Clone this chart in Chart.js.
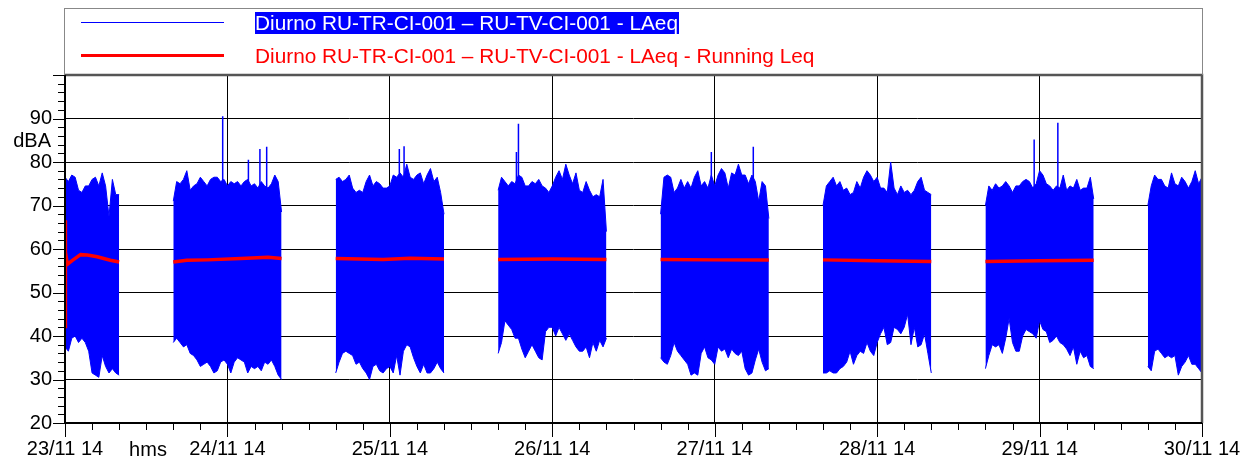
<!DOCTYPE html>
<html lang="pt">
<head>
<meta charset="UTF-8">
<title>Diurno RU-TR-CI-001 – RU-TV-CI-001 - LAeq</title>
<script src="https://cdn.jsdelivr.net/npm/chart.js"></script>
<style>
  body { margin: 0; background: #fff; font-family: "Liberation Sans", Arial, sans-serif; }
  #wrap { position: relative; width: 1257px; height: 466px; }
  #grafico { position: absolute; left: 0; top: 0; }
  #legenda { position: absolute; left: 64px; top: 8px; width: 1139px; height: 67px; border: 1px solid #888; border-bottom: none; box-sizing: border-box; }
  .amostra { position: absolute; left: 16px; width: 143px; }
  .txt { position: absolute; left: 190px; font-size: 20.8px; line-height: 22px; white-space: nowrap; }
</style>
</head>
<body>
<div id="wrap">
  <canvas id="grafico" width="1257" height="466"></canvas>
  <div id="legenda">
    <div class="amostra" style="top:13px; height:1px; background:#0000ff"></div>
    <div class="txt" style="top:3px; background:#0000ff; color:#fff; padding-right:1px">Diurno RU-TR-CI-001 – RU-TV-CI-001 - LAeq</div>
    <div class="amostra" style="top:45px; height:3px; background:#ff0000"></div>
    <div class="txt" style="top:36px; color:#ff0000">Diurno RU-TR-CI-001 – RU-TV-CI-001 - LAeq - Running Leq</div>
  </div>
</div>

<script>
// eixo x em horas desde 23/11 00:00
const dayLabels = ['23/11 14', '24/11 14', '25/11 14', '26/11 14', '27/11 14', '28/11 14', '29/11 14', '30/11 14'];
const blockStart = [0, 16, 40, 64, 88, 112, 136, 160];
const sampleStep = 0.5;

// envelope LAeq (max / min) a cada meia hora
const maxB0 = [76.5,75.5,77,76.5,73.5,73,74.5,74.5,76,76.5,74.5,77.5,74.5,67.5,76,72.5,72.5];
const minB0 = [37.5,36.5,39.5,40,38.5,39.5,38.5,36.5,31.5,31,30.5,35.5,33,31.5,32.5,31.5,31];
const maxB1 = [71,75.5,75,76,78,73.5,74.5,75,76.5,75.5,74.5,76,76.5,76.5,75.5,76,74.5,75.5,75,75.5,74.5,75.5,76,74.5,75,74,75.5,74.5,74,75,77,75.5,68.5];
const minB1 = [38.5,39.5,38.5,37.5,38,36,35.5,34.5,33,33.5,34,33,31.5,32,34,34.5,33.5,31.5,34,35,34.5,34,31.5,33,32.5,33,32,34,33.5,34.5,33,31,30];
const maxB2 = [76,76.5,75.5,76,77,74,73,73.5,73,75.5,77,74.5,75.5,75,74,74,74.5,77,76.5,77.5,76.5,79.5,76.5,76,77,77.5,75,77,78.5,75.5,76.5,73,68];
const minB2 = [31.5,34,36,36.5,36,35.5,33.5,34,32.5,31.5,30,33,33.5,32,31.5,32.5,33,31.5,35.5,31,36.5,38,37.5,35,33,31.5,33.5,31.5,31.5,32.5,34,32.5,31.5];
const maxB3 = [73.5,76.5,75.5,74.5,75.5,75,77,76.5,74.5,74.5,75.5,75,76,74.5,74,73,74.5,76.5,78,76,79.5,77,75,77.5,73.5,73,75.5,73.5,72,72.5,72,76,64];
const minB3 = [36,38.5,43.5,42.5,41.5,39.5,39.5,37,35,36.5,38,36.5,35,34.5,41,42,42,40,42,40.5,39,40.5,39,37.5,36.5,36.5,37.5,35,38.5,36.5,39,37.5,39.5];
const maxB4 = [68,76.5,77,76.5,73,74,76,74,75.5,74,76.5,78,74.5,75.5,74,77,74.5,77,78.5,77.5,74,77.5,77,79.5,77,77,75,77,75.5,71,75.5,74.5,67];
const minB4 = [35,34,33.5,35.5,38.5,36.5,35.5,34.5,33.5,31,31.5,31,36,37.5,35,34.5,33.5,37.5,36.5,37,35,37,36,35.5,36.5,32.5,31,31.5,34.5,37,34,32,32.5];
const maxB5 = [70,74.5,75.5,76.5,74.5,75.5,73.5,74,72.5,73,75.5,74,76.5,78,77,75.5,76.5,74,74,73,80,74,72.5,74.5,73,73.5,72.5,73.5,75.5,76.5,73.5,73,72.5];
const minB5 = [31.5,31.5,32,31.5,31.5,32.5,33,34,36.5,33.5,35.5,36.5,36,38.5,36.5,35.5,38.5,40.5,42,38,38.5,42,41.5,40.5,42,45,38,42,37.5,38,40.5,36,31.5];
const maxB6 = [70,74.5,73.5,75,74,74.5,75.5,74.5,73,74.5,74.5,75.5,76,75.5,74,75,78,77,75,74.5,73.5,74.5,74,77,73.5,74.5,74,76,73.5,74,74,76.5,71.5];
const minB6 = [32.5,35.5,38,37.5,38,36,39.5,44,38.5,36.5,36.5,40,41.5,41,40.5,39.5,43.5,41.5,41,38.5,39,40,38.5,38,37,35.5,37.5,33.5,36.5,35,35.5,33,32.5];
const maxB7 = [70,74.5,77,76,76,74.5,74,77.5,75,74.5,76.5,75.5,74,75.5,78,75,76.5];
const minB7 = [33,32,36.5,37,36,35,35.5,35,35.5,31,33,34,35.5,33.5,33.5,32.5,31.5];

// picos isolados
const spikeTimes = [23.3, 27.1, 28.8, 29.8, 49.4, 50.1, 66.7, 67.0, 95.5, 101.7, 143.2, 146.7];
const spikePeaks = [90.5, 80.5, 83, 83.5, 83, 83.6, 82.3, 88.8, 82.3, 83.5, 85.2, 89];

// Running Leq por período
const rleqT0 = [0, 0.02, 0.1, 0.35, 1.1, 2.3, 3.3, 4.75, 6.7, 8];
const rleqV0 = [66.6, 41.8, 59.3, 56.5, 57.4, 58.7, 58.6, 58.2, 57.4, 57];
const rleqT1 = [16, 18, 21, 26, 30, 32];
const rleqV1 = [57, 57.4, 57.5, 57.8, 58.1, 57.8];
const rleqT2 = [40, 47, 51, 56];
const rleqV2 = [57.8, 57.6, 57.9, 57.7];
const rleqT3 = [64, 72, 80];
const rleqV3 = [57.6, 57.7, 57.6];
const rleqT4 = [88, 96, 104];
const rleqV4 = [57.6, 57.5, 57.5];
const rleqT5 = [112, 120, 128];
const rleqV5 = [57.5, 57.3, 57.1];
const rleqT6 = [136, 144, 152];
const rleqV6 = [57.1, 57.3, 57.4];

const AZUL = '#0000ff';
const VERMELHO = '#ff0000';
const FONTE = '"Liberation Sans", Arial, sans-serif';

const maxBlocos = [maxB0, maxB1, maxB2, maxB3, maxB4, maxB5, maxB6, maxB7];
const minBlocos = [minB0, minB1, minB2, minB3, minB4, minB5, minB6, minB7];
const rleqT = [rleqT0, rleqT1, rleqT2, rleqT3, rleqT4, rleqT5, rleqT6];
const rleqV = [rleqV0, rleqV1, rleqV2, rleqV3, rleqV4, rleqV5, rleqV6];

const datasets = [];

rleqT.forEach((ts, i) => {
  datasets.push({
    data: ts.map((t, k) => ({ x: t, y: rleqV[i][k] })),
    borderColor: VERMELHO, borderWidth: 3.5, pointRadius: 0, fill: false, order: 0
  });
});

blockStart.forEach((t0, b) => {
  const pts = arr => arr.map((v, k) => ({ x: t0 + k * sampleStep, y: v }));
  datasets.push({
    data: pts(maxBlocos[b]), borderColor: AZUL, borderWidth: 1, pointRadius: 0, fill: false, order: 1
  });
  datasets.push({
    data: pts(minBlocos[b]), borderColor: AZUL, borderWidth: 1, pointRadius: 0,
    fill: '-1', backgroundColor: AZUL, order: 1
  });
});

const picos = [];
spikeTimes.forEach((t, i) => {
  picos.push({ x: t, y: 72 }, { x: t, y: spikePeaks[i] }, { x: t, y: null });
});
datasets.push({ data: picos, borderColor: AZUL, borderWidth: 1.5, pointRadius: 0, fill: false, spanGaps: false, order: 1 });

// moldura, marcas dos eixos e rótulos extras
const moldura = {
  id: 'moldura',
  afterDraw(chart) {
    const { ctx, chartArea: a, scales: { x, y } } = chart;
    ctx.save();
    ctx.strokeStyle = '#000';
    ctx.lineWidth = 1;
    y.ticks.forEach(t => {
      const py = Math.round(y.getPixelForValue(t.value)) + 0.5;
      const len = t.value % 10 === 0 ? 12 : 7;
      ctx.beginPath(); ctx.moveTo(a.left - len, py); ctx.lineTo(a.left, py); ctx.stroke();
    });
    x.ticks.forEach(t => {
      const px = Math.round(x.getPixelForValue(t.value)) + 0.5;
      const len = t.value % 24 === 0 ? 14 : 7;
      ctx.beginPath(); ctx.moveTo(px, a.bottom); ctx.lineTo(px, a.bottom + len); ctx.stroke();
    });
    // topo e direita em cinza escuro
    ctx.strokeStyle = '#555';
    ctx.lineWidth = 2.5;
    ctx.beginPath(); ctx.moveTo(a.left, a.top); ctx.lineTo(a.right, a.top); ctx.lineTo(a.right, a.bottom); ctx.stroke();
    // eixos
    ctx.strokeStyle = '#000';
    ctx.lineWidth = 2;
    ctx.beginPath(); ctx.moveTo(a.left, a.top); ctx.lineTo(a.left, a.bottom); ctx.lineTo(a.right, a.bottom); ctx.stroke();
    ctx.fillStyle = '#000';
    ctx.font = '20px ' + FONTE;
    ctx.textBaseline = 'middle';
    ctx.textAlign = 'right';
    ctx.fillText('dBA', a.left - 14, a.top + 66);
    ctx.textAlign = 'center';
    ctx.fillText('hms', a.left + 83, a.bottom + 27);
    ctx.restore();
  }
};

new Chart(document.getElementById('grafico'), {
  type: 'line',
  data: { datasets },
  plugins: [moldura],
  options: {
    responsive: false,
    animation: false,
    events: [],
    layout: { padding: { top: 75, right: 55, left: 0, bottom: 0 } },
    plugins: { legend: { display: false }, tooltip: { enabled: false } },
    scales: {
      x: {
        type: 'linear', min: 0, max: 168,
        afterFit: s => { s.height = 43; },
        border: { display: false },
        grid: {
          drawTicks: false,
          color: c => (c.tick && c.tick.value % 24 === 0 && c.tick.value > 0 && c.tick.value < 168) ? '#000' : 'rgba(0,0,0,0)'
        },
        ticks: {
          stepSize: 4, autoSkip: false, maxRotation: 0, padding: 14,
          color: '#000', font: { size: 20, family: FONTE },
          callback: v => v % 24 === 0 ? dayLabels[v / 24] : ''
        }
      },
      y: {
        min: 20, max: 100,
        afterFit: s => { s.width = 65; },
        border: { display: false },
        grid: {
          drawTicks: false,
          color: c => (c.tick && c.tick.value % 10 === 0 && c.tick.value > 20 && c.tick.value < 100) ? '#000' : 'rgba(0,0,0,0)'
        },
        ticks: {
          stepSize: 2, autoSkip: false, padding: 13,
          color: '#000', font: { size: 20, family: FONTE },
          callback: v => (v % 10 === 0 && v < 100) ? v : ''
        }
      }
    }
  }
});
</script>
</body>
</html>
